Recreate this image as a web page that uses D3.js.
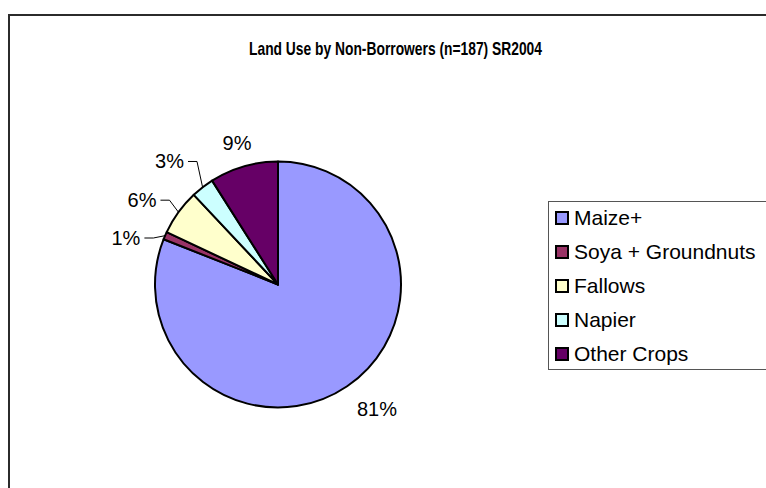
<!DOCTYPE html>
<html>
<head>
<meta charset="utf-8">
<script src="https://cdn.jsdelivr.net/npm/d3@7/dist/d3.min.js"></script>
<style>
  html, body { margin: 0; padding: 0; background: #fff; }
  svg { display: block; font-family: Arial, "Liberation Sans", sans-serif; }
</style>
</head>
<body>
<svg id="chart" width="766" height="488"></svg>
<script>
// Land use shares among non-borrowers (percent of area)
const categories = ["Maize+", "Soya + Groundnuts", "Fallows", "Napier", "Other Crops"];
const shares = [81, 1, 6, 3, 9];
const labels = ["81%", "1%", "6%", "3%", "9%"];
const colors = ["#9999FF", "#993366", "#FFFFCC", "#CCFFFF", "#660066"];
const title = "Land Use by Non-Borrowers (n=187) SR2004";

// Label placement: radial distance and angular nudge (degrees) per slice,
// plus whether the label gets a leader line back to its slice.
const labelRadius = [159, 159, 160, 164, 147];
const labelNudge = [-4.3, -6.4, -4.2, -3.6, 0];
const hasLeader = [false, true, true, true, false];

const svg = d3.select("#chart");
const W = 766, H = 488;

// Chart area frame (runs off the right and bottom of the view)
svg.append("rect")
  .attr("x", 9).attr("y", 15)
  .attr("width", W + 40).attr("height", H + 40)
  .attr("fill", "#fff")
  .attr("stroke", "#2b2b2b")
  .attr("stroke-width", 2);

// Condensed bold title
svg.append("text")
  .attr("x", 249).attr("y", 55)
  .attr("font-size", 19)
  .attr("font-weight", "bold")
  .attr("fill", "#000")
  .attr("textLength", 293)
  .attr("lengthAdjust", "spacingAndGlyphs")
  .text(title);

const cx = 278, cy = 284.5, R = 123;
const g = svg.append("g").attr("transform", `translate(${cx},${cy})`);

const pie = d3.pie().value(d => d).sort(null);
const arcs = pie(shares);
const arc = d3.arc().innerRadius(0).outerRadius(R);

g.selectAll("path.slice")
  .data(arcs)
  .join("path")
  .attr("class", "slice")
  .attr("d", arc)
  .attr("fill", (d, i) => colors[i])
  .attr("stroke", "#000")
  .attr("stroke-width", 2)
  .attr("stroke-linejoin", "round");

const mid = d => (d.startAngle + d.endAngle) / 2;
const polar = (a, r) => [r * Math.sin(a), -r * Math.cos(a)];

arcs.forEach((d, i) => {
  const a = mid(d) + labelNudge[i] * Math.PI / 180;
  const [lx, ly] = polar(a, labelRadius[i]);
  const t = g.append("text")
    .attr("x", lx).attr("y", ly)
    .attr("dy", "0.35em")
    .attr("text-anchor", "middle")
    .attr("font-size", 20)
    .attr("fill", "#000")
    .text(labels[i]);
  if (hasLeader[i]) {
    const w = t.node().getComputedTextLength();
    const edge = polar(mid(d), R);
    const pts = [[lx + w / 2 + 4, ly], [lx + w / 2 + 13, ly], edge];
    g.append("path")
      .attr("d", d3.line()(pts))
      .attr("fill", "none")
      .attr("stroke", "#000")
      .attr("stroke-width", 1);
  }
});

// Legend
const legend = svg.append("g");
legend.append("rect")
  .attr("x", 548.5).attr("y", 201.5)
  .attr("width", 260).attr("height", 168)
  .attr("fill", "#fff")
  .attr("stroke", "#555")
  .attr("stroke-width", 1);

const rowY = d3.scalePoint().domain(categories).range([218, 354]);
const items = legend.selectAll("g.item")
  .data(categories)
  .join("g")
  .attr("class", "item")
  .attr("transform", d => `translate(555,${rowY(d)})`);

items.append("rect")
  .attr("x", 1).attr("y", -6)
  .attr("width", 12).attr("height", 12)
  .attr("fill", (d, i) => colors[i])
  .attr("stroke", "#000")
  .attr("stroke-width", 2);

items.append("text")
  .attr("x", 19).attr("y", 7)
  .attr("font-size", 21)
  .attr("fill", "#000")
  .text(d => d);
</script>
</body>
</html>
